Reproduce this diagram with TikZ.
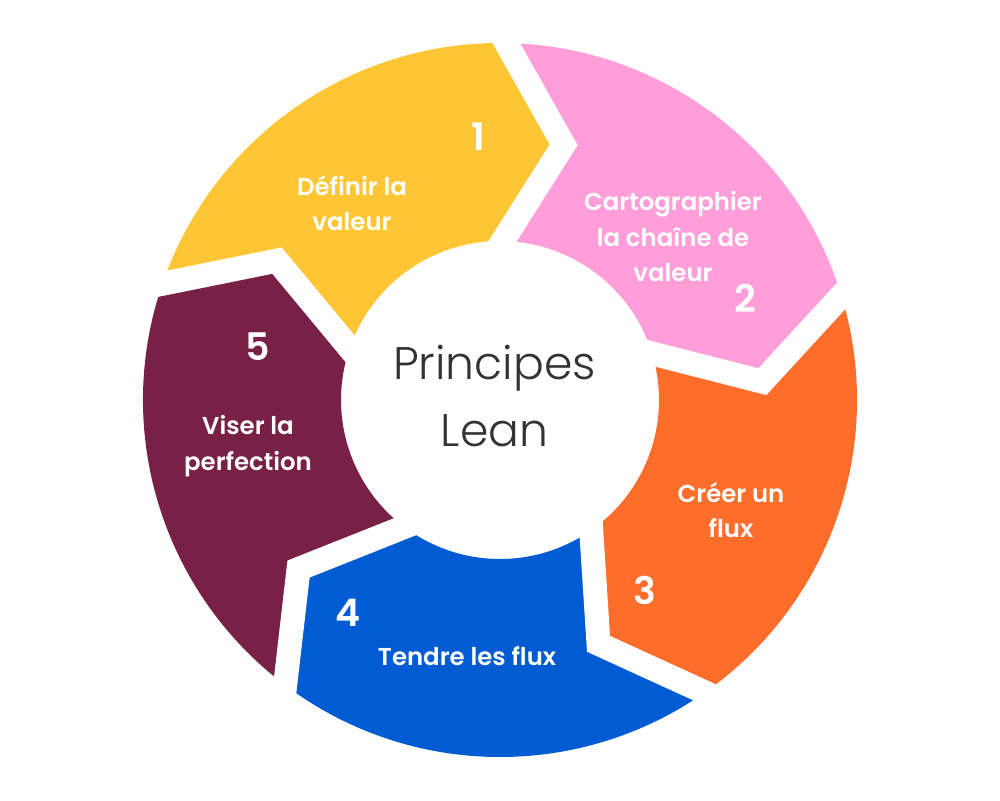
\documentclass[tikz,border=0pt]{standalone}
\usepackage{fontspec}
\setmainfont{Poppins}
\newfontfamily\leanlight{Poppins}[UprightFont={* Light}]
\newfontfamily\leanbold{Poppins}[UprightFont={* SemiBold}]
\usepackage{tikz}
\usetikzlibrary{calc}
\definecolor{leanyellow}{RGB}{254,198,52}
\definecolor{leanpink}{RGB}{255,158,216}
\definecolor{leanorange}{RGB}{255,109,43}
\definecolor{leanblue}{RGB}{1,91,211}
\definecolor{leanpurple}{RGB}{120,32,70}
\definecolor{leangray}{RGB}{51,51,51}
\tikzset{
  stepname/.style={text=white, align=center, font=\leanbold\fontsize{6.95}{10.1}\selectfont},
  stepnum/.style={text=white, font=\leanbold\fontsize{10.8}{13}\selectfont},
  gapline/.style={draw=white, line width=0.24cm, line join=miter}
}

\begin{document}
\begin{tikzpicture}
      \useasboundingbox (0,0) rectangle (10,8);
      \begin{scope}[shift={(5,4)}]
        \fill[leanyellow] (161:3.57) arc[start angle=161, end angle=89, radius=3.57] -- (76:2.63) -- (89:1.59) arc[start angle=89, end angle=161, radius=1.59] -- (148:2.63) -- cycle;
        \fill[leanpink] (89:3.57) arc[start angle=89, end angle=17, radius=3.57] -- (4:2.63) -- (17:1.59) arc[start angle=17, end angle=89, radius=1.59] -- (76:2.63) -- cycle;
        \fill[leanorange] (17:3.57) arc[start angle=17, end angle=-55, radius=3.57] -- (-68:2.63) -- (-55:1.59) arc[start angle=-55, end angle=17, radius=1.59] -- (4:2.63) -- cycle;
        \fill[leanblue] (-55:3.57) arc[start angle=-55, end angle=-127, radius=3.57] -- (-140:2.63) -- (-127:1.59) arc[start angle=-127, end angle=-55, radius=1.59] -- (-68:2.63) -- cycle;
        \fill[leanpurple] (-127:3.57) arc[start angle=-127, end angle=-199, radius=3.57] -- (148:2.63) -- (161:1.59) arc[start angle=161, end angle=233, radius=1.59] -- (-140:2.63) -- cycle;
        \foreach \b in {161,89,17,-55,-127}
          \draw[gapline] ($(\b-13:2.63)!1.2!(\b:3.57)$) -- (\b-13:2.63) -- ($(\b-13:2.63)!1.2!(\b:1.59)$);
      \end{scope}
      \node[text=leangray, align=center, font=\leanlight\fontsize{13}{19}\selectfont] at (4.945,4.04) (lean){Principes\\Lean};
      \node[stepname] at (3.52,5.97) (define){Définir la\\valeur};
      \node[stepnum] at (4.78,6.63) (num1){1};
      \node[stepname] at (6.73,5.63) (map){Cartographier\\la chaîne de\\valeur};
      \node[stepnum] at (7.45,5.02) (num2){2};
      \node[stepname] at (7.31,2.90) (flow){Créer un\\flux};
      \node[stepnum] at (6.45,2.10) (num3){3};
      \node[stepname] at (4.67,1.44) (pull){Tendre les flux};
      \node[stepnum] at (3.48,1.87) (num4){4};
      \node[stepname] at (2.48,3.54) (perfect){Viser la\\perfection};
      \node[stepnum] at (2.58,4.53) (num5){5};
    \end{tikzpicture}
\end{document}
